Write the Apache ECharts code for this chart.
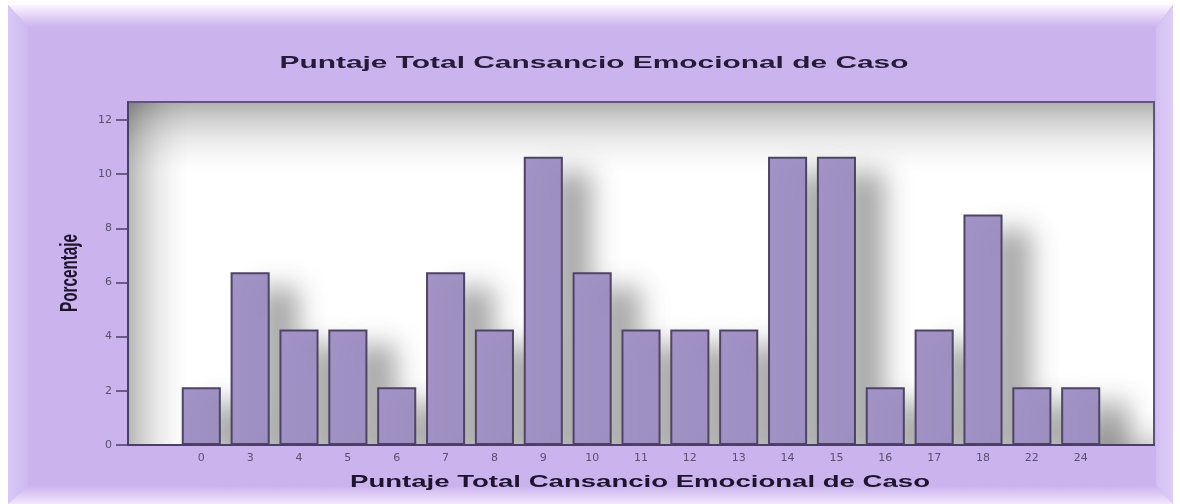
<!DOCTYPE html>
<html>
<head>
<meta charset="utf-8">
<script src="https://cdn.jsdelivr.net/npm/echarts@6/dist/echarts.min.js"></script>
<style>
html,body{margin:0;padding:0;background:#fff;}
#chart{width:1180px;height:504px;}
</style>
</head>
<body>
<div id="chart"></div>
<script>
const titleText = 'Puntaje Total Cansancio Emocional de Caso';
const xAxisName = 'Puntaje Total Cansancio Emocional de Caso';
const yAxisName = 'Porcentaje';
const categories = ['0','3','4','5','6','7','8','9','10','11','12','13','14','15','16','17','18','22','24'];
const percentages = [2.13,6.38,4.26,4.26,2.13,6.38,4.26,10.64,6.38,4.26,4.26,4.26,10.64,10.64,2.13,4.26,8.51,2.13,2.13];
const yTickValues = [0,2,4,6,8,10,12];

function measure(text, font){
  const c = document.createElement('canvas').getContext('2d');
  c.font = font;
  return c.measureText(text).width;
}
const titleFont = 'bold 17px "Liberation Sans", Arial, sans-serif';
const xNameFont = 'bold 17px "Liberation Sans", Arial, sans-serif';
const yNameFont = 'bold 24px "Liberation Sans", Arial, sans-serif';
const titleScale = 629 / measure(titleText, titleFont);
const xNameScale = 580 / measure(xAxisName, xNameFont);
const yNameScale = 78 / measure(yAxisName, yNameFont);

const xData = [''].concat(categories, ['']);
const yData = [null].concat(percentages, [null]);
const lav = '#cbb4ee';

function fade(x0,y0,x1,y1,a){
  return new echarts.graphic.LinearGradient(x0,y0,x1,y1,[
    {offset:0,color:'rgba(0,0,0,'+a+')'},
    {offset:0.25,color:'rgba(0,0,0,'+(a*0.6)+')'},
    {offset:0.5,color:'rgba(0,0,0,'+(a*0.3)+')'},
    {offset:0.75,color:'rgba(0,0,0,'+(a*0.1)+')'},
    {offset:1,color:'rgba(0,0,0,0)'}]);
}

const chart = echarts.init(document.getElementById('chart'), null, {renderer:'canvas'});
chart.setOption({
  animation:false,
  backgroundColor:'transparent',
  grid:{left:128,right:26,top:102,bottom:59,show:true,backgroundColor:'#ffffff',borderColor:'#5e5578',borderWidth:2,z:0},
  xAxis:{
    type:'category', data:xData, boundaryGap:true, z:10,
    axisLine:{lineStyle:{color:'#4a4063',width:2}},
    axisTick:{alignWithLabel:true,length:5,interval:function(i){return i>0 && i<xData.length-1;},lineStyle:{color:'#4a4063',width:1.5}},
    axisLabel:{interval:0,margin:8,color:'#5b4e72',fontSize:11,fontFamily:'DejaVu Sans'},
    splitLine:{show:false}
  },
  yAxis:{
    type:'value', min:0, max:12.66, z:10,
    axisLine:{show:true,lineStyle:{color:'#4a4063',width:2}},
    axisTick:{show:true,length:12,customValues:yTickValues,lineStyle:{color:'#4a4063',width:1.5}},
    axisLabel:{customValues:yTickValues,margin:16,color:'#5b4e72',fontSize:11,fontFamily:'DejaVu Sans'},
    splitLine:{show:false}
  },
  series:[{
    type:'bar', data:yData, barCategoryGap:'20%', z:2,
    itemStyle:{color:'#a293c6',borderColor:'#4d4466',borderWidth:2,
      shadowColor:'rgba(0,0,0,0.34)',shadowBlur:26,shadowOffsetX:28,shadowOffsetY:16}
  }],
  graphic:{elements:[
    {type:'rect',z:-10,shape:{x:8,y:5,width:1165,height:499},style:{fill:lav}},
    {type:'polygon',z:-9,shape:{points:[[8,5],[1173,5],[1156,27],[28,27]]},
      style:{fill:new echarts.graphic.LinearGradient(0,0,0,1,[{offset:0,color:'#fcf5ff'},{offset:0.5,color:'#e4d3f8'},{offset:1,color:lav}])}},
    {type:'polygon',z:-9,shape:{points:[[8,5],[28,27],[28,486],[8,504]]},
      style:{fill:new echarts.graphic.LinearGradient(0,0,1,0,[{offset:0,color:'#d9c8f6'},{offset:1,color:'#cfb9f0'}])}},
    {type:'polygon',z:-9,shape:{points:[[1173,5],[1173,504],[1156,486],[1156,27]]},
      style:{fill:new echarts.graphic.LinearGradient(0,0,1,0,[{offset:0,color:'#d3bff2'},{offset:1,color:'#ddcdf8'}])}},
    {type:'polygon',z:-9,shape:{points:[[8,504],[28,486],[1156,486],[1173,504]]},
      style:{fill:new echarts.graphic.LinearGradient(0,0,0,1,[{offset:0,color:lav},{offset:1,color:'#f3e6fb'}])}},
    {type:'rect',z:1,shape:{x:129,y:103,width:1024,height:70},style:{fill:fade(0,0,0,1,0.3)}},
    {type:'rect',z:1,shape:{x:129,y:103,width:60,height:341},style:{fill:fade(0,0,1,0,0.28)}},
    {type:'rect',z:1,shape:{x:1100,y:410,width:53,height:34},style:{fill:fade(0,1,0,0,0.15)}},
    {type:'rect',z:5,shape:{x:28,y:446,width:1128,height:40},style:{fill:lav}},
    {type:'text',z:6,x:594,y:63,scaleX:titleScale,
      style:{text:titleText,font:titleFont,fill:'#261a3a',textAlign:'center',textVerticalAlign:'middle'}},
    {type:'text',z:11,x:640,y:482,scaleX:xNameScale,
      style:{text:xAxisName,font:xNameFont,fill:'#1e1430',textAlign:'center',textVerticalAlign:'middle'}},
    {type:'text',z:11,x:70,y:273,rotation:Math.PI/2,scaleX:yNameScale,
      style:{text:yAxisName,font:yNameFont,fill:'#1e1430',textAlign:'center',textVerticalAlign:'middle'}}
  ]}
});
</script>
</body>
</html>
